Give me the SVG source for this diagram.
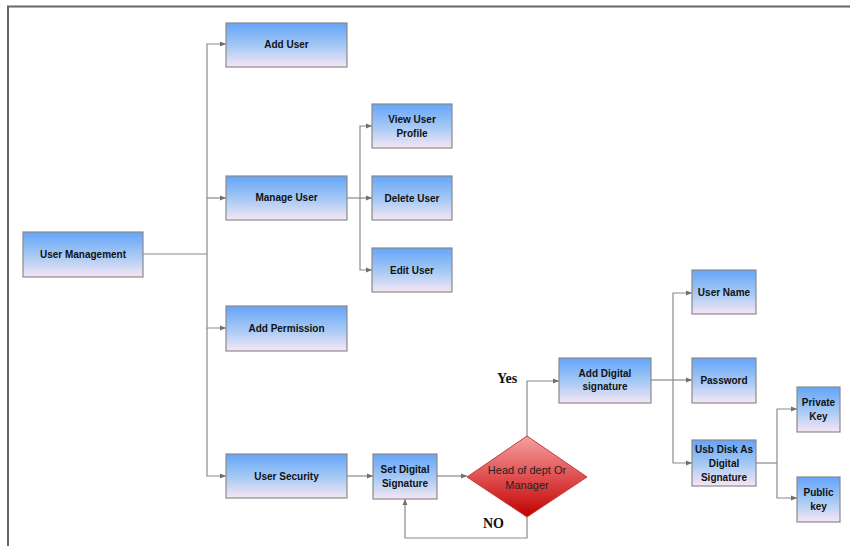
<svg xmlns="http://www.w3.org/2000/svg" width="850" height="546" viewBox="0 0 850 546">
<defs>
<linearGradient id="gb" x1="0" y1="0" x2="0" y2="1">
<stop offset="0" stop-color="#64a4f8"/>
<stop offset="0.55" stop-color="#a9cbf4"/>
<stop offset="1" stop-color="#f6e6f4"/>
</linearGradient>
<linearGradient id="gr" x1="0" y1="0" x2="0" y2="1">
<stop offset="0" stop-color="#f6a0a0"/>
<stop offset="0.5" stop-color="#e05050"/>
<stop offset="1" stop-color="#c00000"/>
</linearGradient>
<marker id="ar" viewBox="0 0 10 10" refX="10" refY="5" markerWidth="6" markerHeight="6" orient="auto" markerUnits="userSpaceOnUse">
<path d="M0,1 L10,5 L0,9 z" fill="#6f6f6f"/>
</marker>
<style>
.b{fill:url(#gb);stroke:#8a8a8a;stroke-width:1.2}
.t{font-family:"Liberation Sans",Arial,sans-serif;font-weight:bold;font-size:10px;fill:#111;text-anchor:middle}
.d{font-family:"Liberation Sans",Arial,sans-serif;font-size:11px;fill:#222;text-anchor:middle}
.y{font-family:"Liberation Serif","Times New Roman",serif;font-weight:bold;font-size:14px;fill:#111}
.c{fill:none;stroke:#8a8a8a;stroke-width:1.2}
.a{marker-end:url(#ar)}
</style>
</defs>
<rect width="850" height="546" fill="#fff"/>
<path d="M8,546 V6.5 H850" fill="none" stroke="#666" stroke-width="2"/>

<g id="connectors">
<path class="c" d="M143,254 H207"/>
<path class="c a" d="M207,254 V44 H226"/>
<path class="c a" d="M207,198 H226"/>
<path class="c a" d="M207,254 V328 H226"/>
<path class="c a" d="M207,328 V476 H226"/>
<path class="c" d="M347,198 H360"/>
<path class="c a" d="M360,198 V126 H372"/>
<path class="c a" d="M360,198 H372"/>
<path class="c a" d="M360,198 V270 H372"/>
<path class="c a" d="M347,476 H373"/>
<path class="c a" d="M437,476 H467"/>
<path class="c a" d="M527,436 V381 H559"/>
<path class="c a" d="M527,517 V538 H405 V499"/>
<path class="c" d="M651,380 H673"/>
<path class="c a" d="M673,380 V293 H692"/>
<path class="c a" d="M673,380 H692"/>
<path class="c a" d="M673,380 V463 H692"/>
<path class="c" d="M756,463 H777"/>
<path class="c a" d="M777,463 V409 H797"/>
<path class="c a" d="M777,463 V498 H797"/>
</g>

<g id="user-management"><rect class="b" x="23" y="232" width="120" height="45"/><text class="t" x="83" y="258">User Management</text></g>
<g id="add-user"><rect class="b" x="226" y="23" width="121" height="44"/><text class="t" x="286.5" y="48">Add User</text></g>
<g id="manage-user"><rect class="b" x="226" y="176" width="121" height="44"/><text class="t" x="286.5" y="201">Manage User</text></g>
<g id="add-permission"><rect class="b" x="226" y="306" width="121" height="45"/><text class="t" x="286.5" y="332">Add Permission</text></g>
<g id="user-security"><rect class="b" x="226" y="454" width="121" height="44"/><text class="t" x="286.5" y="480">User Security</text></g>
<g id="view-user-profile"><rect class="b" x="372" y="104" width="80" height="44"/><text class="t" x="412" y="123">View User</text><text class="t" x="412" y="137">Profile</text></g>
<g id="delete-user"><rect class="b" x="372" y="176" width="80" height="44"/><text class="t" x="412" y="202">Delete User</text></g>
<g id="edit-user"><rect class="b" x="372" y="248" width="80" height="44"/><text class="t" x="412" y="274">Edit User</text></g>
<g id="set-digital-signature"><rect class="b" x="373" y="454" width="64" height="45"/><text class="t" x="405" y="473">Set Digital</text><text class="t" x="405" y="487">Signature</text></g>
<g id="head-of-dept"><path d="M527,436 L587,477 L527,517 L467,477 Z" fill="url(#gr)" stroke="#c04040" stroke-width="1"/><text class="d" x="527" y="474">Head of dept Or</text><text class="d" x="527" y="489">Manager</text></g>
<g id="add-digital-signature"><rect class="b" x="559" y="358" width="92" height="45"/><text class="t" x="605" y="377">Add Digital</text><text class="t" x="605" y="390">signature</text></g>
<g id="user-name"><rect class="b" x="692" y="270" width="64" height="44"/><text class="t" x="724" y="296">User Name</text></g>
<g id="password"><rect class="b" x="692" y="358" width="64" height="45"/><text class="t" x="724" y="384">Password</text></g>
<g id="usb-disk"><rect class="b" x="692" y="440" width="64" height="46"/><text class="t" x="724" y="453">Usb Disk As</text><text class="t" x="724" y="467">Digital</text><text class="t" x="724" y="481">Signature</text></g>
<g id="private-key"><rect class="b" x="797" y="387" width="43" height="45"/><text class="t" x="818.5" y="406">Private</text><text class="t" x="818.5" y="420">Key</text></g>
<g id="public-key"><rect class="b" x="797" y="477" width="43" height="45"/><text class="t" x="818.5" y="496">Public</text><text class="t" x="818.5" y="510">key</text></g>
<text class="y" x="497" y="383">Yes</text>
<text class="y" x="483" y="528">NO</text>
</svg>
